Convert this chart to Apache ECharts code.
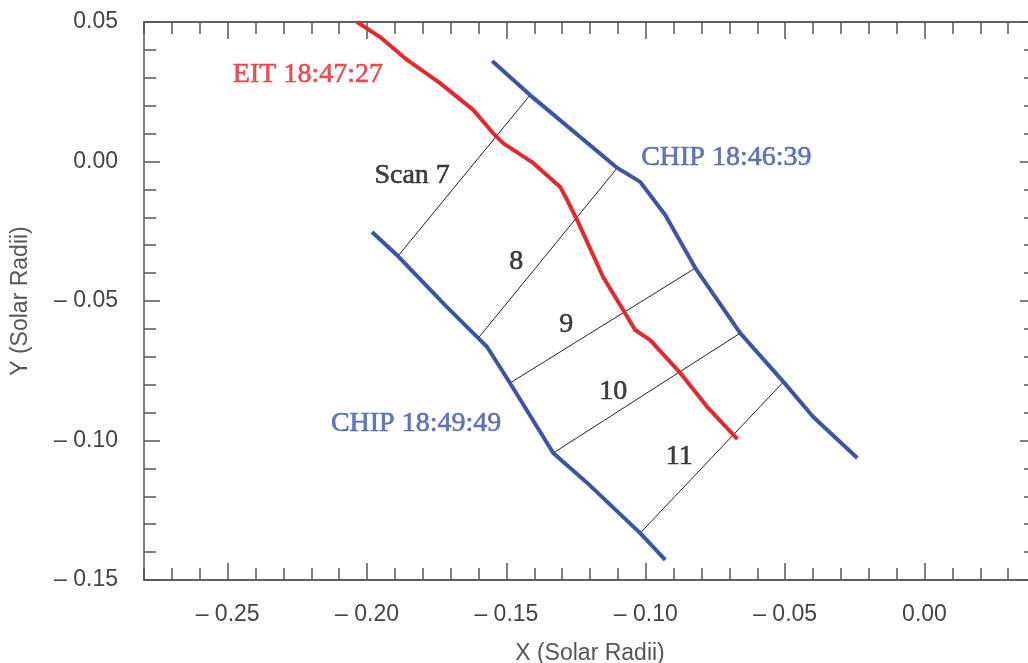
<!DOCTYPE html>
<html>
<head>
<meta charset="utf-8">
<script src="https://cdn.jsdelivr.net/npm/echarts@6/dist/echarts.min.js"></script>
<style>
  html, body { margin: 0; padding: 0; background: #fff; }
  #chart { width: 1028px; height: 663px; }
</style>
</head>
<body>
<div id="chart"></div>
<script>
// tracks, in solar radii
var eitTrack = [
    [-0.2036, 0.0500], [-0.1953, 0.0446], [-0.1856, 0.0364], [-0.1738, 0.0281],
    [-0.1619, 0.0185], [-0.1548, 0.0102], [-0.1512, 0.0066], [-0.1404, -0.0005],
    [-0.1307, -0.0091], [-0.1282, -0.0138], [-0.1246, -0.0210], [-0.1153, -0.0414],
    [-0.1081, -0.0532], [-0.1038, -0.0604], [-0.0984, -0.0640], [-0.0876, -0.0758],
    [-0.0779, -0.0880], [-0.0671, -0.0995]
];
var chipEarly = [
    [-0.1551, 0.0360], [-0.1415, 0.0238], [-0.1102, -0.0023], [-0.1020, -0.0073],
    [-0.0930, -0.0192], [-0.0822, -0.0382], [-0.0661, -0.0615], [-0.0506, -0.0790],
    [-0.0399, -0.0916], [-0.0241, -0.1063]
];
var chipLate = [
    [-0.1982, -0.0253], [-0.1889, -0.0339], [-0.1713, -0.0522], [-0.1601, -0.0633],
    [-0.1569, -0.0665], [-0.1487, -0.0794], [-0.1332, -0.1045], [-0.1210, -0.1152],
    [-0.1020, -0.1332], [-0.0930, -0.1428]
];
var scan7 = [[-0.1889, -0.0339], [-0.1415, 0.0238]];
var scan8 = [[-0.1601, -0.0633], [-0.1102, -0.0023]];
var scan9 = [[-0.1487, -0.0794], [-0.0822, -0.0382]];
var scan10 = [[-0.1332, -0.1045], [-0.0661, -0.0615]];
var scan11 = [[-0.1020, -0.1332], [-0.0506, -0.0790]];

var noteText = ['EIT 18:47:27', 'CHIP 18:46:39', 'CHIP 18:49:49', 'Scan 7', '8', '9', '10', '11'];
var noteX = [-0.2212, -0.0711, -0.1824, -0.1838, -0.1465, -0.1285, -0.1117, -0.0880];
var noteY = [0.0310, 0.0013, -0.0941, -0.0052, -0.0360, -0.0586, -0.0826, -0.1059];
var noteColor = ['#e8262e', '#3a55a8', '#3a55a8', '#111', '#111', '#111', '#111', '#111'];

var xMajor = [-0.25, -0.20, -0.15, -0.10, -0.05, 0.00];
var xMinor = [-0.28, -0.27, -0.26, -0.24, -0.23, -0.22, -0.21, -0.19, -0.18, -0.17, -0.16,
    -0.14, -0.13, -0.12, -0.11, -0.09, -0.08, -0.07, -0.06, -0.04, -0.03, -0.02, -0.01,
    0.01, 0.02, 0.03];

var RED = '#e8262e';
var BLUE = '#3a55a8';
var AXIS = '#555';
var sans = 'Liberation Sans, Arial, sans-serif';
var serif = 'Liberation Serif, Times New Roman, serif';

function fmt(v) {
    var s = Math.abs(v).toFixed(2);
    return v < -1e-9 ? '\u2013 ' + s : s;
}

function xAxisDef(pos, ticks, len, withLabels) {
    return {
        type: 'value', position: pos, min: -0.28, max: 0.04,
        axisLine: { show: true, onZero: false, lineStyle: { color: AXIS, width: 1.5 } },
        axisTick: { show: true, inside: true, length: len, customValues: ticks,
            lineStyle: { color: AXIS, width: 1.5 } },
        axisLabel: withLabels ? { show: true, customValues: xMajor, formatter: fmt,
            margin: 23, fontSize: 23, fontFamily: sans, color: '#444' } : { show: false },
        splitLine: { show: false }
    };
}

function lineSeries(data, color, width) {
    return {
        type: 'line', data: data, symbol: 'none', z: width > 2 ? 3 : 2,
        lineStyle: { color: color, width: width },
        silent: true, animation: false
    };
}

var notes = [];
for (var i = 0; i < noteText.length; i++) {
    notes.push({
        name: noteText[i], value: [noteX[i], noteY[i]],
        label: { color: noteColor[i], textBorderColor: noteColor[i] }
    });
}

var xAxes = [
    xAxisDef('bottom', xMajor, 17, true),
    xAxisDef('bottom', xMinor, 12, false),
    xAxisDef('top', xMajor, 17, false),
    xAxisDef('top', xMinor, 12, false)
];
xAxes[0].name = 'X (Solar Radii)';
xAxes[0].nameLocation = 'middle';
xAxes[0].nameGap = 62;
xAxes[0].nameTextStyle = { fontSize: 23, fontFamily: sans, color: '#555' };

function yAxisDef(pos, withLabels) {
    var a = {
        type: 'value', position: pos, min: -0.15, max: 0.05, interval: 0.05,
        axisLine: { show: true, onZero: false, lineStyle: { color: AXIS, width: 1.5 } },
        axisTick: { show: true, inside: true, length: 16, lineStyle: { color: AXIS, width: 1.5 } },
        minorTick: { show: true, splitNumber: 5, length: 12, lineStyle: { color: AXIS, width: 1.5 } },
        axisLabel: withLabels ? { show: true, formatter: fmt, margin: 26,
            fontSize: 23, fontFamily: sans, color: '#444' } : { show: false },
        splitLine: { show: false }
    };
    if (withLabels) {
        a.name = 'Y (Solar Radii)';
        a.nameLocation = 'middle';
        a.nameGap = 112;
        a.nameTextStyle = { fontSize: 23, fontFamily: sans, color: '#555' };
    }
    return a;
}

var chart = echarts.init(document.getElementById('chart'));
chart.setOption({
    backgroundColor: '#fff',
    animation: false,
    grid: { left: 144, right: -8, top: 22, bottom: 83, containLabel: false, outerBoundsMode: 'none' },
    xAxis: xAxes,
    yAxis: [yAxisDef('left', true), yAxisDef('right', false)],
    series: [
        lineSeries(scan7, '#222', 1),
        lineSeries(scan8, '#222', 1),
        lineSeries(scan9, '#222', 1),
        lineSeries(scan10, '#222', 1),
        lineSeries(scan11, '#222', 1),
        lineSeries(chipEarly, BLUE, 4),
        lineSeries(chipLate, BLUE, 4),
        lineSeries(eitTrack, RED, 4),
        {
            type: 'scatter', data: notes, symbolSize: 0, silent: true, z: 5,
            label: { show: true, position: 'inside', formatter: function (p) { return p.name; },
                fontSize: 28, fontFamily: serif, textBorderWidth: 0.6 }
        }
    ]
});
</script>
</body>
</html>
